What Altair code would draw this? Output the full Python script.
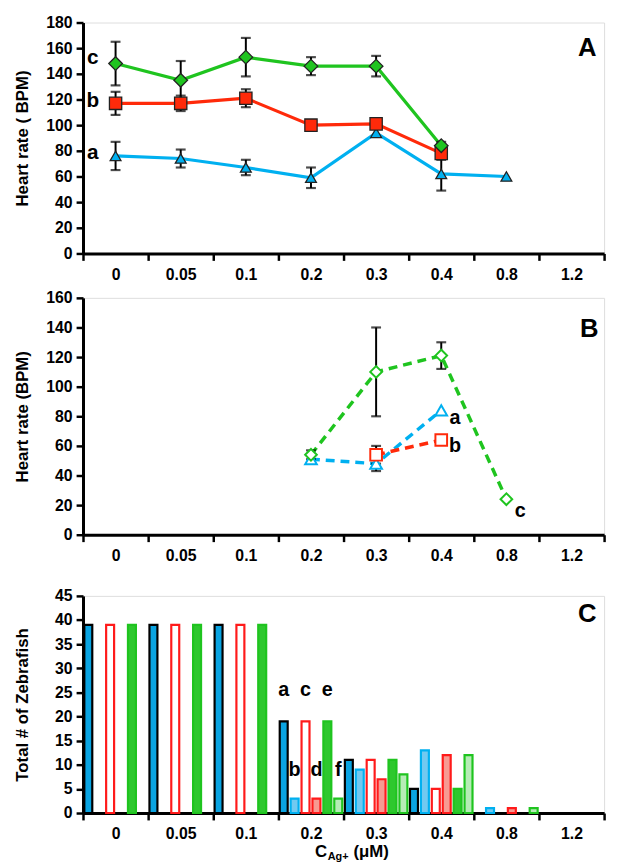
import altair as alt
import pandas as pd

FONT = "Liberation Sans"
conc = ["0", "0.05", "0.1", "0.2", "0.3", "0.4", "0.8", "1.2"]

# ---------------- Panel A ----------------
A_a_x = ["0", "0.05", "0.1", "0.2", "0.3", "0.4", "0.8"]
A_a_y = [76, 74, 67, 59, 94, 62, 60]
A_a_e = [11, 7, 6, 8, 3, 13, 0]
A_b_x = ["0", "0.05", "0.1", "0.2", "0.3", "0.4"]
A_b_y = [117, 117, 121, 100, 101, 78]
A_b_e = [9, 6, 7, 0, 0, 5]
A_c_x = ["0", "0.05", "0.1", "0.2", "0.3", "0.4"]
A_c_y = [148, 135, 153, 146, 146, 84]
A_c_e = [17, 15, 15, 7, 8, 3]
A_lab = ["a", "b", "c"]
A_lab_y = [78, 119, 152]

# ---------------- Panel B ----------------
B_a_x = ["0.2", "0.3", "0.4"]
B_a_y = [51, 48, 84]
B_a_e = [3, 5, 0]
B_b_x = ["0.3", "0.4"]
B_b_y = [54, 64]
B_b_e = [6, 3]
B_c_x = ["0.2", "0.3", "0.4", "0.8"]
B_c_y = [54, 110, 121, 24]
B_c_e = [3, 30, 9, 0]
B_lab = ["a", "b", "c"]
B_lab_x = ["0.4", "0.4", "0.8"]
B_lab_y = [79, 60, 16]

# ---------------- Panel C ----------------
C_series = ["a", "b", "c", "d", "e", "f"]
C_vals = {
    "a": [39, 39, 39, 19, 11, 5, 0, 0],
    "b": [0, 0, 0, 3, 9, 13, 1, 0],
    "c": [39, 39, 39, 19, 11, 5, 0, 0],
    "d": [0, 0, 0, 3, 7, 12, 1, 0],
    "e": [39, 39, 39, 19, 11, 5, 0, 0],
    "f": [0, 0, 0, 3, 8, 12, 1, 0],
}
C_lab = ["a", "c", "e", "b", "d", "f"]
C_lab_y = [25.5, 25.5, 25.5, 8.8, 8.8, 8.8]

BLUE = "#00b0f0"
RED = "#ff2a0a"
GREEN = "#1fc41f"
W = 528


def series_df(xs, ys, es, name):
    return pd.DataFrame({"conc": xs, "v": ys, "e": es, "s": name,
                         "lo": [y - e for y, e in zip(ys, es)],
                         "hi": [y + e for y, e in zip(ys, es)]})


axis_common = dict(domainColor="black", domainWidth=3, tickColor="black",
                   tickWidth=2.5, tickSize=7, labelFont=FONT, labelFontWeight="bold",
                   labelFontSize=16, labelColor="black", grid=False,
                   titleFont=FONT, titleFontWeight="bold", titleFontSize=17,
                   titleColor="black")


def xenc(center=True):
    kw = dict(scale=alt.Scale(type="band", domain=conc, paddingInner=0, paddingOuter=0),
              axis=alt.Axis(tickBand="extent", labelAngle=0, labelPadding=6, **axis_common),
              title=None)
    if center:
        kw["bandPosition"] = 0.5
    return alt.X("conc:N", **kw)


def yenc(field, top, step, title):
    return alt.Y(f"{field}:Q", scale=alt.Scale(domain=[0, top], nice=False, zero=True),
                 axis=alt.Axis(values=list(range(0, top + 1, step)), title=title,
                               labelPadding=4, titlePadding=12, minExtent=40, maxExtent=40,
                               **axis_common))


def err_layers(df, top, step, title):
    d = df[df["e"] > 0]
    rule = alt.Chart(d).mark_rule(color="black", strokeWidth=2).encode(
        x=xenc(), y=yenc("lo", top, step, title), y2="hi:Q")
    caps = pd.concat([d.assign(cap=d["lo"]), d.assign(cap=d["hi"])])
    tick = alt.Chart(caps).mark_tick(color="black", thickness=2.2, size=10).encode(
        x=xenc(), y=yenc("cap", top, step, title))
    return [rule, tick]


def letter(t, xpos, ypos):
    return alt.Chart(pd.DataFrame({"t": [t]})).mark_text(
        font=FONT, fontWeight="bold", fontSize=26, color="black").encode(
        text="t:N", x=alt.value(xpos), y=alt.value(ypos))


indep = dict(fill="independent", stroke="independent", size="independent",
             shape="independent", color="independent", xOffset="independent",
             x="independent", y="independent")

# ---------- Panel A chart ----------
dfA = pd.concat([series_df(A_a_x, A_a_y, A_a_e, "a"),
                 series_df(A_b_x, A_b_y, A_b_e, "b"),
                 series_df(A_c_x, A_c_y, A_c_e, "c")])
col_scale = alt.Scale(domain=["a", "b", "c"], range=[BLUE, RED, GREEN])
shape_scale = alt.Scale(domain=["a", "b", "c"], range=["triangle-up", "square", "diamond"])
titleA = "Heart rate ( BPM)"
linesA = alt.Chart(dfA).mark_line(strokeWidth=3.2).encode(
    x=xenc(), y=yenc("v", 180, 20, titleA),
    color=alt.Color("s:N", scale=col_scale, legend=None), detail="s:N")
ptsA = alt.Chart(dfA).mark_point(filled=True, opacity=1, stroke="#222", strokeWidth=1.3).encode(
    x=xenc(), y=yenc("v", 180, 20, titleA),
    fill=alt.Fill("s:N", scale=col_scale, legend=None),
    shape=alt.Shape("s:N", scale=shape_scale, legend=None),
    size=alt.Size("s:N", scale=alt.Scale(domain=["a", "b", "c"], range=[120, 190, 120]), legend=None))
labA = alt.Chart(pd.DataFrame({"t": A_lab, "v": A_lab_y, "conc": ["0"] * 3})).mark_text(
    font=FONT, fontWeight="bold", fontSize=21, color="black", dx=-23).encode(
    x=xenc(), y=yenc("v", 180, 20, titleA), text="t:N")
chartA = alt.layer(linesA, *err_layers(dfA, 180, 20, titleA), ptsA, labA,
                   letter("A", W - 17, 26)).properties(width=W, height=234)

# ---------- Panel B chart ----------
dfB = pd.concat([series_df(B_a_x, B_a_y, B_a_e, "a"),
                 series_df(B_b_x, B_b_y, B_b_e, "b"),
                 series_df(B_c_x, B_c_y, B_c_e, "c")])
titleB = "Heart rate (BPM)"
linesB = alt.Chart(dfB).mark_line(strokeWidth=3.5, strokeDash=[9, 6]).encode(
    x=xenc(), y=yenc("v", 160, 20, titleB),
    color=alt.Color("s:N", scale=col_scale, legend=None), detail="s:N")
ptsB = alt.Chart(dfB).mark_point(filled=False, opacity=1, fill="white", fillOpacity=1,
                                 strokeWidth=2).encode(
    x=xenc(), y=yenc("v", 160, 20, titleB),
    stroke=alt.Stroke("s:N", scale=col_scale, legend=None),
    shape=alt.Shape("s:N", scale=shape_scale, legend=None),
    size=alt.Size("s:N", scale=alt.Scale(domain=["a", "b", "c"], range=[140, 140, 80]), legend=None))
labB = alt.Chart(pd.DataFrame({"t": B_lab, "v": B_lab_y, "conc": B_lab_x})).mark_text(
    font=FONT, fontWeight="bold", fontSize=20, color="black", dx=14).encode(
    x=xenc(), y=yenc("v", 160, 20, titleB), text="t:N")
chartB = alt.layer(linesB, *err_layers(dfB, 160, 20, titleB), ptsB, labB,
                   letter("B", W - 15, 32)).properties(width=W, height=240)

# ---------- Panel C chart ----------
rows = []
for s in C_series:
    for c, v in zip(conc, C_vals[s]):
        if v > 0:
            rows.append({"conc": c, "sc": s, "v": v})
dfC = pd.DataFrame(rows)
fill_scale = alt.Scale(domain=C_series,
                       range=["#0aa4e2", "#72c9f0", "#ffffff", "#f79a92", "#2ec82e", "#b6ecb6"])
stroke_scale = alt.Scale(domain=C_series,
                         range=["#000000", BLUE, "#ff1a1a", "#ff1a1a", GREEN, GREEN])
off_scale = alt.Scale(domain=C_series, paddingInner=0.27, paddingOuter=0.12)
titleC = "Total # of Zebrafish"
barsC = alt.Chart(dfC).mark_bar(strokeWidth=2.2).encode(
    x=xenc(center=False), y=yenc("v", 45, 5, titleC),
    xOffset=alt.XOffset("sc:N", scale=off_scale),
    fill=alt.Fill("sc:N", scale=fill_scale, legend=None),
    stroke=alt.Stroke("sc:N", scale=stroke_scale, legend=None))
labC = alt.Chart(pd.DataFrame({"t": C_lab, "v": C_lab_y, "conc": ["0.2"] * 6, "sc": C_lab})).mark_text(
    font=FONT, fontWeight="bold", fontSize=20, color="black").encode(
    x=xenc(center=False), xOffset=alt.XOffset("sc:N", scale=off_scale),
    y=yenc("v", 45, 5, titleC), text="t:N")
xt = [("C", 17, 235, 40), ("Ag+", 11, 248, 45), ("(μM)", 17, 274, 40)]
xtitle = [alt.Chart(pd.DataFrame({"t": [t]})).mark_text(
    font=FONT, fontWeight="bold", fontSize=fs, color="black", align="left").encode(
    text="t:N", x=alt.value(px), y=alt.value(220 + py)) for t, fs, px, py in xt]
chartC = alt.layer(barsC, labC, letter("C", W - 17, 18), *xtitle).properties(width=W, height=220)

top = alt.vconcat(chartA, chartB, spacing=6).resolve_scale(**indep)
chart = alt.vconcat(top, chartC, spacing=23).resolve_scale(**indep).properties(
    padding={"top": 0, "left": 5, "right": 5, "bottom": 0}).configure_view(
    stroke="black", strokeWidth=3).configure(font=FONT)

chart.save("out.html", embed_options={"renderer": "svg", "actions": False})
